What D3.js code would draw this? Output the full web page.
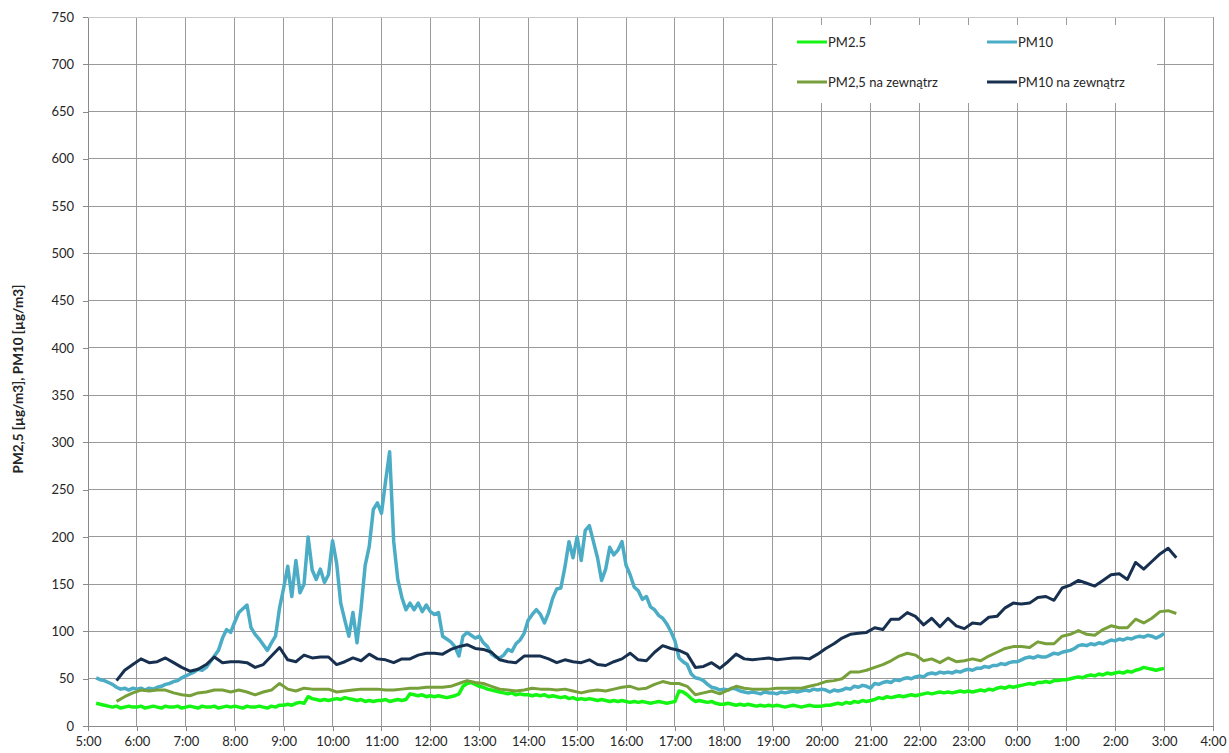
<!DOCTYPE html>
<html lang="pl">
<head>
	<meta charset="UTF-8">
	<title>PM2.5 / PM10</title>
	<style>
	body{ margin:0; background:#fff; }
	.chart text{ font-family: Lato, "Open Sans", sans-serif; fill:#262626; }
	</style>
</head>
<body>
<div class="chart"></div>
<script src="https://d3js.org/d3.v7.min.js"></script>
<script>
// indoor series, one value every 5 min from 5:10
var pm25In = [
	24,23,22,21,20,21,19,20,21,20,
	20,21,19,20,21,20,19,21,20,20,21,19,
	20,21,20,19,21,20,20,21,19,20,21,20,
	21,20,19,21,20,20,21,20,19,21,20,22,
	22,23,22,24,25,24,31,29,28,27,28,27,
	28,29,28,30,29,28,27,28,26,27,26,27,
	27,28,26,27,28,27,28,34,33,32,33,31,
	32,31,32,31,30,31,32,34,42,45,46,44,
	42,41,39,38,37,36,35,34,35,33,34,33,
	33,32,33,32,33,31,32,31,30,31,29,30,
	28,29,28,29,28,27,28,27,26,27,26,27,
	26,25,26,25,26,25,24,25,26,25,24,25,
	26,37,36,33,29,26,27,26,25,26,24,23,
	23,24,23,22,23,22,23,22,21,22,21,22,
	21,22,21,20,21,22,21,20,21,22,21,21,
	21,22,22,23,24,23,25,24,26,25,27,26,
	27,28,30,29,31,30,31,32,31,32,33,32,
	33,34,35,34,35,36,35,36,35,36,37,36,
	37,36,37,38,37,39,38,40,41,40,42,41,
	42,43,44,45,44,46,46,47,46,48,48,49,
	49,50,51,52,51,53,54,53,55,54,56,55,
	56,57,56,58,57,59,60,62,61,60,59,60,
	61
];
var pm10In = [
	51,49,48,46,44,41,39,40,38,40,
	39,40,38,40,39,41,42,44,45,47,48,51,
	53,55,57,60,59,62,68,74,80,93,102,99,
	110,120,124,128,104,97,92,86,80,88,95,125,
	146,169,137,175,141,150,200,165,155,166,152,160,
	196,172,130,112,95,120,88,125,170,190,229,236,
	225,259,290,195,155,136,123,130,123,130,121,128,
	121,118,120,95,92,89,84,74,95,99,96,93,
	95,88,84,76,73,72,75,81,79,87,91,98,
	112,118,123,118,109,120,135,145,146,168,195,178,
	200,175,207,212,195,178,154,166,189,181,186,195,
	170,160,147,143,134,137,126,123,117,114,108,100,
	90,72,68,65,55,51,50,48,44,41,40,38,
	39,38,40,39,37,36,35,36,35,34,36,35,
	35,34,36,35,36,37,36,37,38,37,39,38,
	39,38,36,38,37,38,40,39,42,41,43,42,
	40,45,44,46,47,46,49,48,50,51,50,52,
	53,52,55,56,55,57,56,57,56,58,57,59,
	60,59,61,61,63,62,64,64,66,65,67,68,
	68,70,72,73,72,74,73,73,75,77,76,78,
	79,80,82,85,86,85,87,86,88,87,89,91,
	90,92,91,93,92,94,95,94,96,95,93,95,
	98
];
// outdoor series, one value every 10 min from 5:35
var pm25Out = [
	26,31,35,
	38,37,38,38,35,33,
	32,35,36,38,38,36,
	38,36,33,36,38,45,
	39,37,40,39,39,39,
	36,37,38,39,39,39,
	38,38,39,40,40,41,
	41,41,42,45,48,46,
	45,42,39,38,37,38,
	40,39,39,38,39,37,
	35,37,38,37,39,41,
	42,39,40,44,47,45,
	45,42,33,35,37,34,
	38,42,40,39,39,39,
	40,40,40,40,42,44,
	47,48,50,57,57,59,
	62,65,69,74,77,75,
	69,71,67,72,68,69,
	71,69,74,78,82,84,
	84,83,89,87,87,95,
	97,101,97,96,102,106,
	104,104,113,109,114,121,
	122,119
];
var pm10Out = [
	48,59,65,
	71,67,68,72,67,62,
	58,60,65,73,67,68,
	68,67,62,65,74,83,
	70,68,75,72,73,73,
	65,68,72,69,76,71,
	70,67,71,71,75,77,
	77,76,81,84,86,82,
	81,78,70,68,67,74,
	74,74,71,67,70,68,
	67,70,65,64,68,71,
	77,70,69,78,85,82,
	80,76,62,63,67,61,
	68,76,71,70,71,72,
	70,71,72,72,71,76,
	82,87,93,97,98,99,
	104,102,113,113,120,116,
	107,114,105,114,106,103,
	109,108,115,116,125,130,
	129,130,136,137,133,146,
	149,154,151,148,154,160,
	161,155,173,166,174,182,
	188,178
];
var seriesNames = ['PM2.5', 'PM10', 'PM2,5 na zewnątrz', 'PM10 na zewnątrz'];
var seriesColors = ['#14f514', '#4bacc6', '#77a03a', '#18304f'];
var yTicks = d3.range(0, 751, 50);

var W = 1229, H = 753;
var margin = { top: 17, right: 16, bottom: 27, left: 88 };

var svg = d3.select('.chart')
	.append('svg')
	.attr('width', W)
	.attr('height', H);

var x = d3.scaleTime()
	.domain([new Date(2012,0,1,5,0), new Date(2012,0,2,4,0)])
	.range([margin.left, W - margin.right]);
var y = d3.scaleLinear()
	.domain([0, 750])
	.range([H - margin.bottom, margin.top]);

var hours = d3.timeHour.every(1).range(x.domain()[0], d3.timeMinute.offset(x.domain()[1], 1));

// grid
var grid = svg.append('g').attr('shape-rendering', 'crispEdges');
grid.selectAll('.gx').data(hours).enter().append('line')
	.attr('x1', d => x(d)).attr('x2', d => x(d))
	.attr('y1', y(0)).attr('y2', y(750))
	.style('stroke', '#9a9a9a');
grid.selectAll('.gy').data(yTicks).enter().append('line')
	.attr('x1', x.range()[0]).attr('x2', x.range()[1])
	.attr('y1', d => y(d)).attr('y2', d => y(d))
	.style('stroke', d => d === 750 ? '#c8c8c8' : '#9a9a9a');

// axes
var yAxis = d3.axisLeft(y).tickValues(yTicks).tickSizeInner(5).tickSizeOuter(0).tickPadding(9);
var gy = svg.append('g')
	.attr('transform', `translate(${margin.left},0)`)
	.call(yAxis);
var xAxis = d3.axisBottom(x).tickValues(hours).tickFormat(d3.timeFormat('%-H:%M'))
	.tickSizeInner(5).tickSizeOuter(0).tickPadding(6);
var gx = svg.append('g')
	.attr('transform', `translate(0,${H - margin.bottom})`)
	.call(xAxis);
[gx, gy].forEach(function(g){
	g.attr('shape-rendering', 'crispEdges');
	g.select('.domain').style('stroke', '#8a8a8a');
	g.selectAll('.tick line').style('stroke', '#8a8a8a');
	g.selectAll('text').style('font-size', '13px').style('font-family', 'Lato, sans-serif').style('fill', '#262626');
});

svg.append('text')
	.attr('transform', 'translate(23,379) rotate(-90)')
	.attr('text-anchor', 'middle')
	.style('font-size', '13.5px')
	.style('font-weight', 'bold')
	.text('PM2,5 [µg/m3], PM10 [µg/m3]');

// lines
function series(values, start, step){
	return values.map((v, i) => ({ t: d3.timeMinute.offset(start, i * step), v: v }));
}
var inStart = new Date(2012,0,1,5,10);
var outStart = new Date(2012,0,1,5,35);
var data = [
	series(pm25In, inStart, 5),
	series(pm10In, inStart, 5),
	series(pm25Out, outStart, 10),
	series(pm10Out, outStart, 10)
];
var line = d3.line().x(d => x(d.t)).y(d => y(d.v));

svg.selectAll('.serie').data(data).enter().append('path')
	.attr('d', line)
	.style('fill', 'none')
	.style('stroke', (d, i) => seriesColors[i])
	.style('stroke-width', (d, i) => i < 2 ? 3.5 : 3)
	.style('stroke-linejoin', 'round');

// legend
var lg = svg.append('g');
lg.append('rect')
	.attr('x', 777).attr('y', 25)
	.attr('width', 380).attr('height', 78)
	.style('fill', '#fff');
var items = lg.selectAll('.item').data(seriesNames).enter().append('g')
	.attr('transform', (d, i) => `translate(${797 + (i % 2) * 190},${42 + Math.floor(i / 2) * 40})`);
items.append('line')
	.attr('x1', 0).attr('x2', 30)
	.style('stroke', (d, i) => seriesColors[i])
	.style('stroke-width', 3);
items.append('text')
	.attr('x', 31).attr('y', 4.5)
	.style('font-size', '13px')
	.text(d => d);
</script>
</body>
</html>
